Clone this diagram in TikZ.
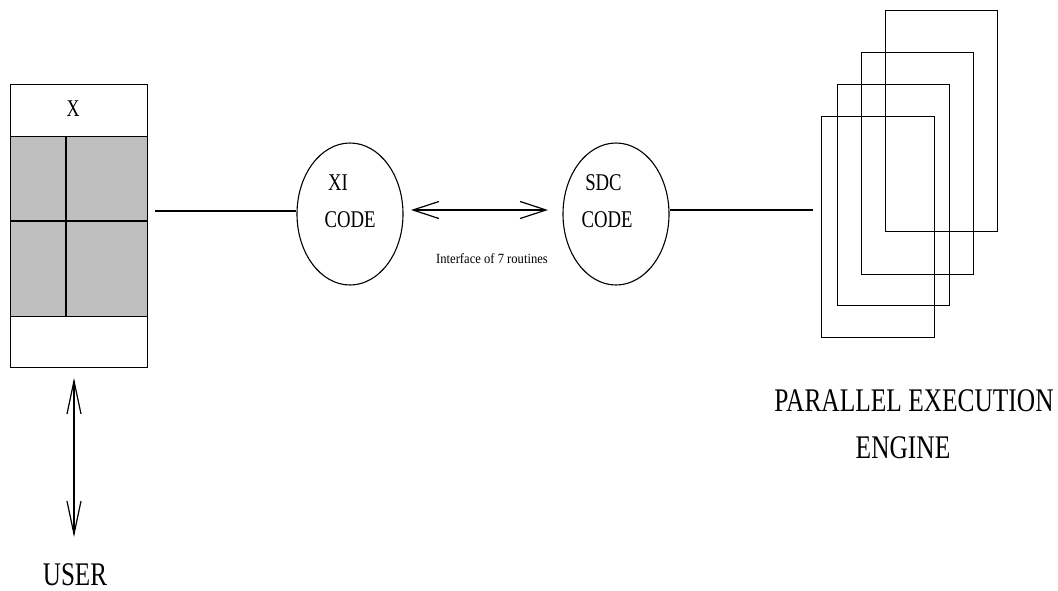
\documentclass[tikz,border=0pt]{standalone}
\usepackage{fontspec}
\setmainfont{Liberation Serif}
\usetikzlibrary{arrows.meta,shapes.geometric}
\newcommand{\cnd}[2]{\scalebox{#1}[1]{#2}}
\begin{document}
\begin{tikzpicture}[x=1pt,y=-1pt,
  ln/.style={line width=0.9pt},
  conn/.style={line width=1.3pt},
  codeell/.style={draw,ellipse,line width=1.1pt,minimum width=106pt,minimum height=142pt,inner sep=0pt},
  bigtxt/.style={font=\fontsize{33}{38}\selectfont,inner sep=0pt,anchor=base},
  midtxt/.style={font=\fontsize{24}{28}\selectfont,inner sep=0pt,anchor=base},
  smalltxt/.style={font=\fontsize{14}{16}\selectfont,inner sep=0pt,anchor=base},
  barb/.style={line width=1.2pt,arrows={Straight Barb[length=26pt,width=17pt]-Straight Barb[length=26pt,width=17pt]}},
  vbarb/.style={line width=1.2pt,arrows={Straight Barb[length=33pt,width=14pt]-Straight Barb[length=33pt,width=14pt]}}
]
\useasboundingbox (0,0) rectangle (1058,590);
% left window
\fill[gray!50] (10,136) rectangle (147,316);
\draw[ln] (10,84) rectangle (147,367);
\draw[ln] (10,136) -- (147,136);
\draw[ln] (10,316) -- (147,316);
\draw[line width=1.3pt] (66,136) -- (66,316);
\draw[line width=1.5pt] (10,221) -- (147,221);
\node[midtxt] (xlab) at (73,116) {\cnd{0.75}{X}};
\coordinate (winR) at (155,211);
\coordinate (winB) at (74,378);
\coordinate (userT) at (74,537);
\node[bigtxt] (user) at (75,585) {\cnd{0.76}{USER}};
% ellipses
\node[codeell] (xi) at (350,214) {};
\node[codeell] (sdc) at (616,214) {};
\node[midtxt] (xit) at (338,190) {\cnd{0.78}{XI}};
\node[midtxt] (xic) at (350,227) {\cnd{0.78}{CODE}};
\node[midtxt] (sdct) at (603.5,190) {\cnd{0.78}{SDC}};
\node[midtxt] (sdcc) at (607,227) {\cnd{0.78}{CODE}};
\coordinate (aL) at (411,210);
\coordinate (aR) at (548,210);
\node[smalltxt] (iface) at (492,263) {\cnd{0.9}{Interface of 7 routines}};
% engine rectangles
\draw[ln] (885,10) rectangle (997,231);
\draw[ln] (861,52) rectangle (973,274);
\draw[ln] (837,84) rectangle (949,305);
\draw[ln] (821,116) rectangle (934,337);
\coordinate (engL) at (813,210);
\node[bigtxt] (par) at (914,411.5) {\cnd{0.77}{PARALLEL EXECUTION}};
\node[bigtxt] (eng) at (903,458) {\cnd{0.77}{ENGINE}};
% connectors
\draw[conn] (winR) -- (winR -| xi.west);
\draw[conn] (engL -| sdc.east) -- (engL);
\draw[barb] (aL) -- (aR);
\draw[vbarb] (winB) -- (userT);
\end{tikzpicture}
\end{document}
